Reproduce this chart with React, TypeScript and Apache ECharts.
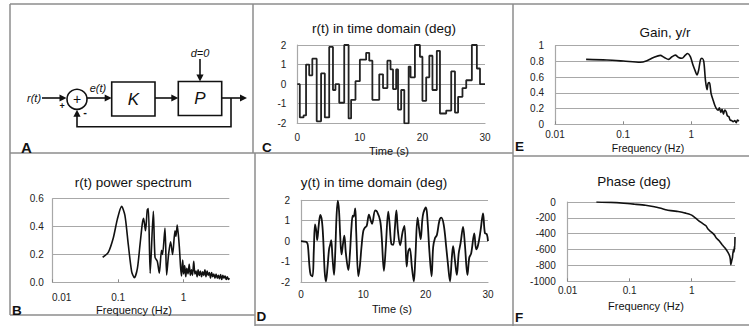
import React, { useEffect, useRef } from 'react';
import * as echarts from 'echarts';

// ---- Panel C: r(t) step input (time s, value deg) ----
const rTimes = [0, 0.4, 1.0, 1.4, 1.9, 2.4, 3.1, 3.8, 4.4, 5.1, 5.7, 6.1, 6.7, 7.5, 8.2, 8.6, 9.3, 10.0, 11.0, 11.5, 12.0, 13.1, 13.7, 14.4, 14.9, 15.3, 15.8, 16.1, 16.6, 17.1, 17.8, 18.1, 18.8, 19.6, 20.0, 20.6, 21.1, 21.6, 22.3, 22.8, 23.8, 24.6, 25.2, 25.7, 26.4, 27.0, 27.9, 28.7, 29.2, 30];
const rValues = [0, -1.7, -1.6, 1.0, 0.45, 1.3, -1.9, 0.55, -1.7, 1.9, -0.3, 0, -0.95, 2.0, -1.75, -0.8, 0.15, 1.25, 1.6, 1.2, -0.8, 0.5, -0.2, 1.2, 0.75, -0.25, 0.75, -1.3, -0.3, -2.0, 0.9, 0.35, 2.0, 1.4, -0.85, 0.35, 1.45, -0.3, 1.7, -1.5, -1.35, 0.65, -1.45, -0.65, -0.2, 0.2, 2.0, 0.8, 0, 0];

// ---- Panel D: y(t) output ----
const yTimes = [0, 0.5, 0.9, 1.1, 1.35, 1.55, 1.85, 2.05, 2.25, 2.45, 2.6, 2.85, 3.1, 3.35, 3.55, 3.8, 4.0, 4.25, 4.5, 4.7, 4.85, 5.05, 5.3, 5.5, 5.7, 5.9, 6.1, 6.3, 6.5, 6.75, 6.95, 7.2, 7.6, 7.85, 8.1, 8.3, 8.45, 8.7, 8.85, 9.2, 9.45, 9.7, 10.0, 10.3, 10.55, 10.9, 11.2, 11.4, 11.9, 12.2, 12.7, 12.95, 13.3, 13.6, 14.0, 14.2, 14.5, 14.8, 15.05, 15.3, 15.55, 15.9, 16.3, 16.6, 16.95, 17.2, 17.45, 17.8, 18.1, 18.35, 18.7, 18.95, 19.2, 19.45, 19.65, 20.05, 20.3, 20.6, 20.95, 21.2, 21.5, 21.8, 22.2, 22.5, 22.9, 23.3, 23.6, 23.9, 24.2, 24.4, 24.7, 25.0, 25.3, 25.6, 26.0, 26.3, 26.7, 27.0, 27.3, 27.8, 28.1, 28.4, 28.8, 29.2, 29.5, 29.8, 30];
const yValues = [0, -0.02, -0.05, -0.2, -1.2, -1.65, -1.72, -0.5, 0.82, 0.5, 0.05, 0.8, 1.28, 1.0, 0.2, -1.5, -1.97, -1.3, -0.4, -0.15, 0.05, -0.8, -1.65, -0.5, 1.2, 1.98, 1.5, 0.2, -0.65, -0.1, 0.27, -0.6, -1.42, -0.6, 0.7, 1.25, 1.2, 1.6, 0.5, -1.72, -1.2, -0.3, 0.5, 0.68, 0.75, 1.3, 1.0, 0.85, 1.5, 1.45, 1.0, 0.2, -1.45, -0.3, 1.45, 0.9, -0.15, -0.18, 0.6, 1.5, 0.5, -0.2, 0.45, 0.75, -1.25, -0.5, -0.35, -1.3, -1.97, -0.8, 1.15, 0.6, 0.1, 1.0, 1.4, 1.65, 1.0, -0.5, -1.72, -0.3, 0.15, 0.3, 1.0, 1.15, 0.8, -0.3, -1.2, -1.97, -0.8, -0.25, -0.95, -1.65, -0.6, -0.1, 0.7, -0.2, -1.65, -0.8, -0.6, 0.38, -0.4, -0.2, 0.5, 1.36, 0.4, 0.35, 0];

// ---- Panel B: r(t) power spectrum ----
const psdFreq = [0.058, 0.0707, 0.0845, 0.097, 0.113, 0.127, 0.143, 0.161, 0.177, 0.197, 0.216, 0.234, 0.245, 0.262, 0.279, 0.29, 0.309, 0.345, 0.366, 0.397, 0.426, 0.46, 0.477, 0.52, 0.551, 0.59, 0.634, 0.68, 0.739, 0.765, 0.8, 0.86, 0.9, 0.93, 0.97, 1.0, 1.04, 1.08, 1.12, 1.17, 1.22, 1.27, 1.32, 1.37, 1.43, 1.49, 1.55, 1.61, 1.67, 1.74, 1.81, 1.88, 1.96, 2.04, 2.12, 2.2, 2.29, 2.38, 2.48, 2.58, 2.68, 2.79, 2.9, 3.02, 3.14, 3.27, 3.4, 3.54, 3.68, 3.83, 3.98, 4.14, 4.31, 4.48, 4.66, 4.85, 5.0];
const psdPower = [0.18, 0.215, 0.32, 0.45, 0.545, 0.48, 0.27, 0.077, 0.033, 0.1, 0.27, 0.42, 0.46, 0.37, 0.52, 0.53, 0.065, 0.51, 0.18, 0.15, 0.065, 0.23, 0.2, 0.39, 0.053, 0.2, 0.29, 0.2, 0.37, 0.33, 0.41, 0.26, 0.11, 0.045, 0.16, 0.06, 0.12, 0.04, 0.1, 0.06, 0.13, 0.05, 0.09, 0.05, 0.15, 0.06, 0.08, 0.04, 0.09, 0.05, 0.08, 0.04, 0.075, 0.05, 0.09, 0.04, 0.08, 0.05, 0.07, 0.03, 0.07, 0.04, 0.06, 0.03, 0.06, 0.03, 0.05, 0.025, 0.055, 0.02, 0.05, 0.03, 0.045, 0.02, 0.04, 0.02, 0.03];

// ---- Panel E: gain y/r ----
const gainFreq = [0.0286, 0.0575, 0.101, 0.178, 0.223, 0.279, 0.35, 0.401, 0.464, 0.52, 0.582, 0.651, 0.729, 0.816, 0.883, 0.967, 1.06, 1.15, 1.21, 1.28, 1.36, 1.43, 1.52, 1.61, 1.7, 1.76, 1.84, 1.95, 2.08, 2.2, 2.33, 2.47, 2.58, 2.7, 2.82, 2.96, 3.09, 3.24, 3.38, 3.54, 3.7, 3.92, 4.1, 4.34, 4.54, 4.75, 4.97];
const gainValues = [0.826, 0.818, 0.805, 0.79, 0.81, 0.85, 0.877, 0.85, 0.826, 0.86, 0.88, 0.85, 0.84, 0.88, 0.9, 0.86, 0.75, 0.67, 0.627, 0.69, 0.82, 0.84, 0.8, 0.56, 0.44, 0.52, 0.53, 0.39, 0.31, 0.246, 0.2, 0.18, 0.21, 0.15, 0.19, 0.13, 0.18, 0.16, 0.106, 0.1, 0.055, 0.047, 0.034, 0.047, 0.02, 0.055, 0.04];

// ---- Panel F: phase ----
const phaseFreq = [0.029, 0.05, 0.08, 0.12, 0.18, 0.25, 0.32, 0.4, 0.5, 0.6, 0.7, 0.8, 0.9, 1.0, 1.1, 1.25, 1.4, 1.55, 1.7, 1.85, 2.0, 2.2, 2.35, 2.5, 2.75, 3.1, 3.5, 3.85, 4.1, 4.2, 4.28, 4.4, 4.55, 4.7, 4.82, 4.9, 4.95, 5.0];
const phaseValues = [0, -5, -15, -28, -42, -60, -80, -100, -112, -120, -130, -140, -150, -165, -190, -225, -255, -280, -300, -345, -370, -395, -420, -455, -485, -540, -585, -635, -680, -720, -790, -750, -700, -605, -630, -560, -600, -440];

const timeTicks = ['0', '10', '20', '30'];
const freqTicks = ['0.01', '0.1', '1'];

const FONT = '"Liberation Sans", Arial, sans-serif';
const GRID = '#a8a8a8';
const BORDER = '#8c8c8c';
const LINE = '#111';

function pairs(xs: number[], ys: number[]) {
  return xs.map((x, i) => [x, ys[i]]);
}

function T(text: string, x: number, y: number, size: number, o: any = {}) {
  const align = o.align || 'center';
  return {
    type: 'text', x, y, silent: true, z: 10,
    style: {
      text, fill: o.fill || '#111',
      font: `${o.style || 'normal'} ${o.weight || 'normal'} ${size}px ${FONT}`,
      textAlign: align, align, textVerticalAlign: 'middle', verticalAlign: 'middle',
    },
  };
}
function L(x1: number, y1: number, x2: number, y2: number, color = '#111', w = 1.6) {
  return { type: 'line', silent: true, z: 10, shape: { x1, y1, x2, y2 }, style: { stroke: color, lineWidth: w } };
}
function arrow(x: number, y: number, dir: string) {
  const a = 7, b = 3.6;
  let pts: number[][];
  if (dir === 'right') pts = [[x, y], [x - a, y - b], [x - a, y + b]];
  else if (dir === 'down') pts = [[x, y], [x - b, y - a], [x + b, y - a]];
  else pts = [[x, y], [x - b, y + a], [x + b, y + a]];
  return { type: 'polygon', silent: true, z: 10, shape: { points: pts }, style: { fill: '#111' } };
}

const labelStyle = { fontSize: 10, color: '#222', fontFamily: FONT };

function timeX(gi: number, margin: number) {
  return {
    type: 'value', gridIndex: gi, min: 0, max: 30, interval: 10,
    axisLine: { show: true, onZero: false, lineStyle: { color: GRID, width: 1.2 } },
    axisTick: { show: false }, splitLine: { show: false },
    axisLabel: { ...labelStyle, margin, formatter: (v: number) => timeTicks[Math.round(v / 10)] ?? String(v) },
  };
}
function logX(gi: number, margin: number, shiftFirst = 0) {
  return {
    type: 'log', logBase: 10, gridIndex: gi, min: 0.01, max: 5,
    axisLine: { show: true, onZero: false, lineStyle: { color: GRID, width: 1.2 } },
    axisTick: { show: true, inside: true, length: 3, lineStyle: { color: '#888' } },
    splitLine: { show: false },
    axisLabel: {
      ...labelStyle, margin, showMaxLabel: false, showMinLabel: true,
      formatter: (v: number) => {
        const i = Math.round(Math.log10(v)) + 2;
        const s = freqTicks[i] ?? String(v);
        return i === 0 && shiftFirst ? '{s|' + s + '}' : s;
      },
      rich: { s: { ...labelStyle, padding: [0, 0, 0, shiftFirst] } },
    },
  };
}
function valY(gi: number, min: number, max: number, interval: number, margin: number, fmt: (v: number) => string) {
  return {
    type: 'value', gridIndex: gi, min, max, interval,
    axisLine: { show: true, lineStyle: { color: GRID, width: 1.2 } },
    axisTick: { show: false },
    splitLine: { show: true, lineStyle: { color: GRID, width: 1.2 } },
    axisLabel: { ...labelStyle, margin, formatter: fmt },
  };
}

export default function App() {
  const ref = useRef<HTMLDivElement>(null);
  useEffect(() => {
    if (!ref.current) return;
    const chart = echarts.init(ref.current, null, { renderer: 'svg' });

    const g: any[] = [];
    // borders
    g.push(L(10, 4, 749, 4, BORDER, 1.5));
    g.push(L(10, 4, 10, 315, BORDER, 1.5));
    g.push(L(10, 153, 513, 153, BORDER, 1.5));
    g.push(L(513, 156, 749, 156, BORDER, 1.5));
    g.push(L(253, 4, 253, 153, BORDER, 1.5));
    g.push(L(255, 153, 255, 326, BORDER, 1.5));
    g.push(L(513, 4, 513, 326, BORDER, 1.5));
    g.push(L(10, 315, 255, 315, BORDER, 1.5));
    g.push(L(255, 325, 749, 325, BORDER, 1.5));

    // Panel A block diagram
    g.push(T('r(t)', 27, 98, 11, { align: 'left', style: 'italic' }));
    g.push(L(42, 98, 61, 98));
    g.push(arrow(66.5, 98, 'right'));
    g.push({ type: 'circle', silent: true, z: 10, shape: { cx: 77, cy: 99.3, r: 10 }, style: { stroke: '#111', lineWidth: 1.6, fill: '#fff' } });
    g.push(T('+', 77, 99, 14));
    g.push(T('+', 62, 105.5, 9, { weight: 'bold' }));
    g.push(T('-', 85, 111.5, 11, { weight: 'bold' }));
    g.push(T('e(t)', 98, 88, 11, { style: 'italic' }));
    g.push(L(87, 98, 105, 98));
    g.push(arrow(111.7, 98, 'right'));
    g.push({ type: 'rect', silent: true, z: 10, shape: { x: 111.7, y: 82, width: 43.3, height: 34 }, style: { stroke: '#111', lineWidth: 1.6, fill: '#fff' } });
    g.push(T('K', 133.3, 99, 17, { style: 'italic' }));
    g.push(L(155, 98, 172, 98));
    g.push(arrow(178.3, 98, 'right'));
    g.push({ type: 'rect', silent: true, z: 10, shape: { x: 178.3, y: 81.5, width: 43.4, height: 34 }, style: { stroke: '#111', lineWidth: 1.6, fill: '#fff' } });
    g.push(T('P', 200, 98.5, 17, { style: 'italic' }));
    g.push(T('d=0', 200, 52.5, 11, { style: 'italic' }));
    g.push(L(200, 59, 200, 75));
    g.push(arrow(200, 81.5, 'down'));
    g.push(L(221.7, 98, 240, 98));
    g.push(arrow(247, 98, 'right'));
    g.push({ type: 'polyline', silent: true, z: 10, shape: { points: [[231, 98], [231, 126.7], [77, 126.7], [77, 116]] }, style: { stroke: '#111', lineWidth: 1.6, fill: 'none' } });
    g.push(arrow(77, 109.8, 'up'));

    // Titles
    g.push(T('r(t) power spectrum', 133.3, 182.3, 13.5));
    g.push(T('r(t) in time domain (deg)', 384, 28, 13.5));
    g.push(T('y(t) in time domain (deg)', 374, 182, 13.5));
    g.push(T('Gain, y/r', 665, 32, 13.5));
    g.push(T('Phase (deg)', 634, 181.3, 13.5));
    // axis names
    g.push(T('Frequency (Hz)', 134, 310.3, 11));
    g.push(T('Time (s)', 389, 150.5, 11));
    g.push(T('Time (s)', 392, 309, 11));
    g.push(T('Frequency (Hz)', 648, 147.5, 10.5));
    g.push(T('Frequency (Hz)', 646, 305.7, 11));
    // panel letters
    g.push(T('A', 21, 147, 15, { align: 'left', weight: 'bold' }));
    g.push(T('B', 12, 310, 13.5, { align: 'left', weight: 'bold' }));
    g.push(T('C', 262, 147, 13.5, { align: 'left', weight: 'bold' }));
    g.push(T('D', 256.5, 316.5, 13.5, { align: 'left', weight: 'bold' }));
    g.push(T('E', 515, 146, 13.5, { align: 'left', weight: 'bold' }));
    g.push(T('F', 515, 317, 13.5, { align: 'left', weight: 'bold' }));

    const option: any = {
      animation: false,
      backgroundColor: '#fff',
      textStyle: { fontFamily: FONT },
      grid: [
        { left: 52.7, top: 198.7, width: 176.6, height: 83.6 },
        { left: 297.3, top: 45, width: 187.7, height: 78.3 },
        { left: 301, top: 200.3, width: 187, height: 81.7 },
        { left: 555, top: 45.7, width: 184, height: 78.6 },
        { left: 567.7, top: 202, width: 167.3, height: 79.3 },
      ],
      xAxis: [
        logX(0, 10, 18),
        timeX(1, 9),
        timeX(2, 7),
        logX(3, 5),
        logX(4, 4),
      ],
      yAxis: [
        valY(0, 0, 0.6, 0.2, 9, (v) => v.toFixed(1)),
        valY(1, -2, 2, 1, 11, (v) => String(v)),
        valY(2, -2, 2, 1, 11, (v) => String(v)),
        valY(3, 0, 1, 0.2, 11, (v) => String(Math.round(v * 10) / 10)),
        valY(4, -1000, 0, 200, 12, (v) => String(v)),
      ],
      series: [
        { type: 'line', xAxisIndex: 0, yAxisIndex: 0, data: pairs(psdFreq, psdPower), showSymbol: false, smooth: 0.25, lineStyle: { color: LINE, width: 1.6 } },
        { type: 'line', xAxisIndex: 1, yAxisIndex: 1, data: pairs(rTimes, rValues), showSymbol: false, step: 'end', lineStyle: { color: '#222', width: 1.8 } },
        { type: 'line', xAxisIndex: 2, yAxisIndex: 2, data: pairs(yTimes, yValues), showSymbol: false, smooth: 0.35, lineStyle: { color: LINE, width: 1.8 } },
        { type: 'line', xAxisIndex: 3, yAxisIndex: 3, data: pairs(gainFreq, gainValues), showSymbol: false, smooth: 0.3, lineStyle: { color: LINE, width: 1.6 } },
        { type: 'line', xAxisIndex: 4, yAxisIndex: 4, data: pairs(phaseFreq, phaseValues), showSymbol: false, smooth: 0.2, lineStyle: { color: LINE, width: 1.6 } },
      ],
      graphic: { elements: g },
    };
    chart.setOption(option);
    return () => chart.dispose();
  }, []);
  return <div ref={ref} style={{ position: 'absolute', left: 0, top: 0, width: 749, height: 326 }} />;
}
